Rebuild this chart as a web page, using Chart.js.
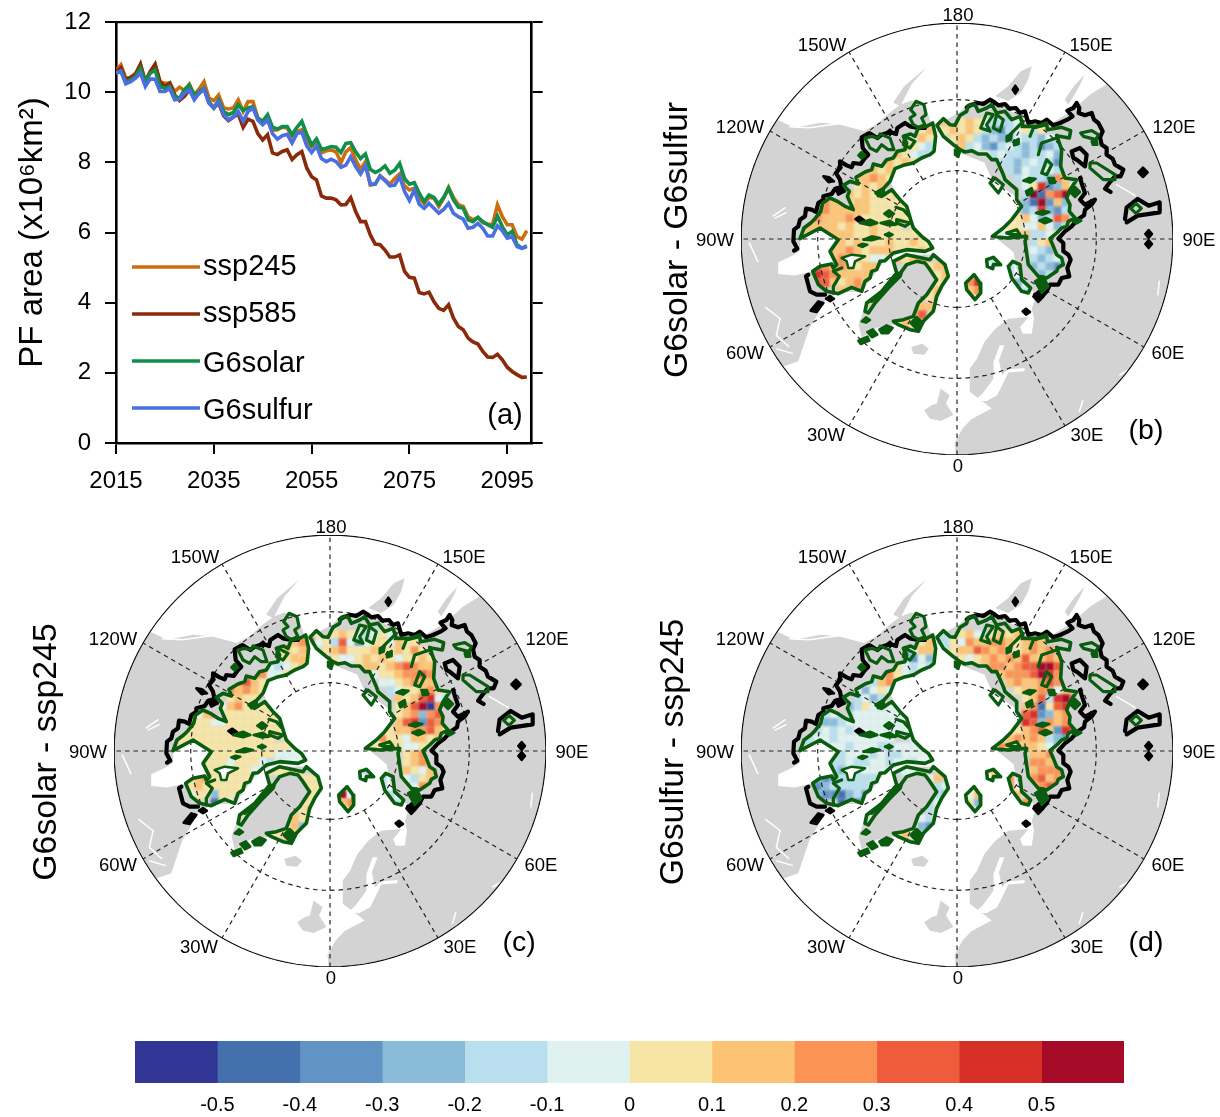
<!DOCTYPE html>
<html><head><meta charset="utf-8">
<style>
html,body{margin:0;padding:0;background:#fff;width:1220px;height:1117px;overflow:hidden}
canvas{position:absolute;filter:blur(0.5px)}
</style>
<script src="https://cdn.jsdelivr.net/npm/chart.js@4/dist/chart.umd.js"></script>
</head><body>
<canvas id="pa" width="560" height="500" style="left:0;top:0"></canvas>
<canvas id="pb" width="600" height="480" style="left:620px;top:0"></canvas>
<canvas id="pc" width="600" height="480" style="left:0;top:512px"></canvas>
<canvas id="pd" width="600" height="480" style="left:620px;top:512px"></canvas>
<canvas id="cb" width="1220" height="87" style="left:0;top:1030px"></canvas>
<script>
// ---------- panel (a) data ----------
const years=[2015,2016,2017,2018,2019,2020,2021,2022,2023,2024,2025,2026,2027,2028,2029,2030,2031,2032,2033,2034,2035,2036,2037,2038,2039,2040,2041,2042,2043,2044,2045,2046,2047,2048,2049,2050,2051,2052,2053,2054,2055,2056,2057,2058,2059,2060,2061,2062,2063,2064,2065,2066,2067,2068,2069,2070,2071,2072,2073,2074,2075,2076,2077,2078,2079,2080,2081,2082,2083,2084,2085,2086,2087,2088,2089,2090,2091,2092,2093,2094,2095,2096,2097,2098,2099];
const ssp245=[10.62,10.78,10.4,10.42,10.54,10.78,10.3,10.59,10.78,10.3,10.25,10.26,10.02,10.14,10.05,10.23,9.92,10.09,10.3,9.83,9.76,9.92,9.55,9.52,9.55,9.78,9.45,9.73,9.73,9.26,9.12,9.21,8.91,8.93,9.0,8.98,8.74,8.88,8.93,8.6,8.45,8.55,8.27,8.33,8.35,8.3,7.99,8.3,8.42,8.07,7.8,8.02,7.35,7.38,7.62,7.5,7.38,7.54,7.67,7.33,7.21,7.26,6.98,6.83,7.0,6.98,6.74,6.98,7.29,7.0,6.79,6.74,6.45,6.36,6.43,6.28,6.24,6.22,6.79,6.45,6.22,6.22,5.88,5.81,6.05];
const ssp585=[10.6,10.7,10.35,10.42,10.5,10.8,10.3,10.58,10.8,10.3,10.16,10.26,9.92,9.76,9.88,10.07,9.88,9.97,10.1,9.7,9.55,9.69,9.33,9.19,9.29,9.38,9.0,9.23,9.17,8.82,8.64,8.79,8.27,8.22,8.31,8.36,8.08,8.22,8.31,7.84,7.59,7.5,7.04,6.98,6.98,6.93,6.79,6.8,6.99,6.6,6.31,6.31,5.93,5.67,5.65,5.5,5.3,5.3,5.36,4.89,4.72,4.7,4.29,4.25,4.3,4.03,3.84,3.78,3.94,3.56,3.32,3.23,2.99,2.88,2.82,2.61,2.45,2.44,2.53,2.37,2.16,2.04,1.95,1.87,1.88];
const g6solar=[10.54,10.6,10.3,10.35,10.45,10.68,10.3,10.54,10.63,10.16,10.11,10.16,9.88,9.83,10.07,10.2,9.92,10.02,10.11,9.73,9.55,9.78,9.45,9.36,9.42,9.64,9.48,9.55,9.59,9.26,9.17,9.36,9.0,8.95,9.02,9.02,8.79,9.0,9.17,8.8,8.5,8.67,8.37,8.4,8.45,8.43,8.28,8.54,8.56,8.3,8.11,8.24,7.8,7.71,7.78,7.9,7.69,7.78,7.97,7.54,7.38,7.42,7.12,6.88,7.07,7.0,6.81,7.0,7.26,6.93,6.72,6.69,6.36,6.31,6.43,6.31,6.22,6.15,6.47,6.17,5.93,6.03,5.65,5.55,5.6];
const g6sulfur=[10.54,10.6,10.24,10.3,10.4,10.54,10.16,10.38,10.37,10.02,10.02,10.1,9.78,9.8,9.97,10.07,9.78,9.97,10.1,9.69,9.55,9.73,9.36,9.21,9.29,9.45,9.17,9.45,9.55,9.21,9.07,9.21,8.82,8.66,8.76,8.8,8.55,8.82,8.86,8.47,8.28,8.46,8.11,8.02,8.09,8.02,7.86,7.92,8.16,7.88,7.67,7.9,7.38,7.38,7.61,7.48,7.33,7.35,7.59,7.17,6.91,7.21,6.81,6.69,6.83,6.69,6.55,6.66,6.83,6.55,6.45,6.38,6.12,6.15,6.26,6.12,5.9,5.9,6.19,6.05,5.84,5.88,5.6,5.55,5.62];
const seriesNames=['ssp245','ssp585','G6solar','G6sulfur'];
const seriesColors=['#cc6e0e','#8a2a0b','#0f8f4a','#4a6fe0'];
const xTickLabels=[2015,2035,2055,2075,2095];

// ---------- colour bar ----------
const colorBins=['#313695','#4470ae','#6194c5','#8abbd9','#b9dfee','#e0f2f0','#f7e5a6','#fdc374','#fa9354','#ee5c3b','#d73027','#a50b26'];
const colorEdges=[-0.6,-0.5,-0.4,-0.3,-0.2,-0.1,0,0.1,0.2,0.3,0.4,0.5,0.6];
const colorTicks=[-0.5,-0.4,-0.3,-0.2,-0.1,0,0.1,0.2,0.3,0.4,0.5];
const levelLetters='ABCDEFGHIJKL';
const levelValues=[-0.55,-0.45,-0.35,-0.25,-0.15,-0.05,0.05,0.15,0.25,0.35,0.45,0.55];

// ---------- heat rows: "column:letters" per row, one letter per cell ----------
const heatB=[
"21:HGF 23:E","","",
"19:HHGHG 24:FEEDF 27:EFE",
"16:GHG 19:GHGHG 24:EDCEF 27:EFGE 31:G",
"14:EFH 16:HGF 20:GHGE 24:DEDCE 28:FEEDE 32:F",
"14:HG 15:GFE 17:EF 21:HEFDC 26:EFEDE 31:CDED",
"13:HGFEEF 24:FEFE 28:EDEEFDCE",
"11:HHGHGF 26:EEDE 30:FEECDE",
"8:IHHGHGH 27:EDFEEFEHE",
"8:HHIHGH 28:EFEEDIHE",
"8:GHGHIH 29:FGKCDHFGE",
"7:HGHGH 12:GH 29:ELBIJLHGE",
"4:IHHGHHGGG 13:GG 29:DBLCHDIGHF",
"3:JIHHHHHGGGGGG 29:DEKDCEGHED",
"2:JIHHHIHGGGGGG 28:GHFDEJIEFKHE",
"1:IHHHHGHGGHGGG 15:GG 27:GGFFHFDEKKEHE",
"2:HGH 5:HHHGGHGGGGGH 26:FFGHEEFGHJE",
"6:HGHGGGHGGHGGGHH 30:EGHIHG",
"5:HHIHGHHHGGGHGG 30:FEDHFG",
"5:HIHHGFFGHHG 14:GHH 25:E 30:EDEFHI",
"3:JIH 6:IHGHHGH 16:HGHH 27:E 30:DEDCE",
"3:KJI 6:HHHHIHG 18:GH 22:H 27:E 30:EDEKE",
"3:JJH 6:GHIHCH 18:GH 22:IK 28:D",
"6:HHIHD 12:HI 17:GH 22:HI 29:E",
"11:IH 17:GH",
"10:HG 16:HHI",
"15:HJ",
"13:GHH 15:G"];
const heatC=[
"","","",
"19:GFGHG 24:FEFE 27:GF",
"16:HIJ 19:FGEJFG 24:CFGH 27:GFHG 31:G",
"14:GHGHJ 20:GHIGF 24:GGHG 28:GHGI 32:G",
"14:FGHG 17:HG 21:GFFGH 26:GHGFG 31:GHGH",
"13:FEFGHH 24:GHHGH 28:HIJIHHGG",
"11:HIFFGG 26:FGGH 29:HIIJIHFG",
"8:HIJHGFF 27:FFGHIHHGG",
"8:IHIHGG 28:EFGGHIGF",
"8:GHGGGG 29:HGHJKFEE",
"7:FHIGGGGG 29:GHJLAIJHG",
"4:FHIGGGGGGGG 29:GHIDIJIHG",
"3:GGGFFGGGGGGGG 29:HJKCJIHHG",
"2:HGGGGGGGGGGGG 28:GHHIIJHGHJ",
"1:HGGGGGGGGGGGG 15:GG 27:IGGFHHGHHIE",
"2:G 5:GGGGGGGGGGGFF 26:GGHGFFGGHH",
"6:GGGGGGGGFFFFFFF 30:GHIHH",
"5:GGGFGGGFEFFFF 30:GHIHG",
"5:GGGGGGFFGF 14:GGG 25:E 30:HGFHI",
"3:GHI 6:GGGGGGF 16:GGGG 27:E 30:FEGH",
"3:GHG 6:GGGGGG 18:GG 22:G 27:E 30:EFIH",
"3:FGG 6:DGGGFD 18:GG 22:LF 28:E",
"6:BGFCB 12:GE 17:GG 22:HI 29:E",
"11:ED 17:GH",
"10:GF 16:HGG",
"15:GHD",
"13:GG 15:H"];
const heatD=[
"","","",
"19:EFGHF 24:EGHG 27:GH",
"16:GHE 19:EGFIH 24:HIIH 27:HGHI 31:H",
"14:CFHHG 20:GHHJH 24:IHIG 28:GHIHIH",
"14:ECFGE 17:DE 21:GFGHI 26:HIHJHG 31:HIH",
"13:GFEFEH 24:HIIH 28:IJJLLJHI",
"11:HIGFEF 26:HIII 30:JLKIFHH",
"8:EFEHIGF 27:HIHHIJIFG",
"8:FDFGFE 28:GHHIIFHG",
"8:EFDEFF 29:GHJEKLJHG",
"7:DEGFEFFF 29:HIBGJKLJH",
"4:EFEEFFFFFF 29:JKCDHIJHI",
"3:EDDEFFFFFFFFG 29:KJDIHIKKH",
"2:EEFEFEFFFFFFF 28:GHIJHCKKKD",
"1:EEFFEFFFFFFF 15:FF 27:HIHIHEDCH",
"2:E 5:FFEFFFEEFFFF 26:IHGHHGFDE",
"6:EFFFEFEEFFFFFF 30:HHIEE",
"5:EEFEEFFEFFEF 30:IIHDG",
"5:EDEEFFFFEF 14:FFG 25:H 30:HIIIH",
"3:DCD 6:EEEEEFF 16:FFH 27:I 30:IJHIH",
"3:CDE 6:EEEEFE 18:EF 22:F 27:I 30:HIJIH",
"3:DCC 6:BDECD 18:ED 22:FH 28:HE",
"6:BDCB 12:DC 17:EF 22:GD 29:I",
"11:ED 17:EG",
"10:FE 16:FEG",
"15:GDC",
"13:GHF"];

// ---------- land outlines, in the map's land units ----------
const landNorthAmerica=[[360,365],[400,385],[470,370],[520,375],[590,395],[625,375],[660,340],[690,315],[720,303],[760,325],[787,412],[771,467],[675,509],[661,547],[689,602],[718,662],[748,712],[766,727],[707,752],[648,785],[584,877],[540,880],[490,895],[440,990],[410,1088],[365,1105],[150,1110],[100,720],[200,300]];
const landEurasia=[[845,1400],[838,1335],[860,1290],[885,1262],[940,1230],[880,1180],[880,1110],[900,1080],[920,1030],[950,990],[985,960],[1040,955],[1030,970],[1018,985],[1025,1005],[1050,1005],[1056,960],[1050,930],[1062,890],[1010,820],[1000,760],[950,715],[1005,680],[1015,600],[940,540],[920,490],[850,460],[790,395],[800,370],[850,340],[880,310],[940,300],[1000,340],[1030,350],[1060,375],[1100,375],[1160,335],[1210,285],[1262,250],[1400,150],[1600,720],[1400,1400]];
const landGreenland=[[671,787],[707,767],[780,767],[812,797],[821,832],[789,892],[780,937],[739,997],[684,977],[625,987],[584,1017],[575,977],[597,912],[639,877],[680,822]];
const landKamchatka=[[950,290],[985,260],[1020,215],[1050,200],[1040,240],[1020,280],[985,305]];
const landSakhalin=[[1140,300],[1165,260],[1195,225],[1185,250],[1165,290],[1150,315]];
const landAleutian=[[670,310],[700,260],[760,205],[720,255],[690,320]];
const landIceland=[[720,1045],[750,1035],[768,1050],[755,1068],[725,1065]];
const landBritain=[[755,1235],[775,1220],[790,1215],[800,1170],[825,1190],[815,1215],[835,1250],[800,1268],[770,1260]];
const seaHudson=[[415,719],[470,687],[520,722],[497,757],[505,790],[480,805],[450,817],[400,830],[355,825],[355,790],[395,770],[415,755]];
const seaBaltic=[[895,1205],[925,1208],[955,1190],[978,1140],[985,1122],[1030,1118],[1030,1108],[985,1112],[968,1130],[960,1085],[975,1040],[962,1040],[945,1090],[945,1140],[915,1185]];
const coastLines=[
 [[340,652],[375,625]],[[345,658],[378,640]],[[275,730],[300,790]],[[320,925],[360,960],[350,1010],[385,1045]],
 [[385,382],[440,385],[530,372]],[[1280,555],[1335,590]],[[1190,1205],[1180,1240]],[[1290,1130],[1335,1100]],[[1400,845],[1395,890]],[[350,1050],[395,1065]]];

// ---------- contours, in the map's contour units ----------
const regionAmerica=[[30,432],[42,400],[62,385],[75,372],[92,350],[98,325],[120,310],[142,320],[165,335],[190,345],[172,305],[178,290],[160,272],[180,260],[205,268],[198,248],[225,232],[245,225],[250,208],[275,215],[290,195],[310,190],[322,170],[345,165],[350,145],[340,125],[362,118],[375,125],[385,100],[410,95],[428,85],[437,125],[432,170],[420,180],[395,190],[370,205],[340,212],[315,222],[300,260],[280,282],[258,295],[275,305],[305,285],[330,315],[350,335],[362,375],[370,400],[395,425],[415,440],[428,460],[405,470],[350,465],[310,475],[285,498],[270,500],[260,525],[245,530],[240,550],[225,560],[215,590],[185,578],[145,597],[110,590],[85,570],[68,530],[90,515],[125,508],[130,520],[140,510],[120,470],[145,435],[90,400],[30,432]];
const regionSiberia=[[441,92],[460,72],[480,90],[495,92],[510,62],[530,50],[535,32],[555,30],[565,50],[590,40],[605,30],[620,55],[645,50],[665,75],[690,65],[700,95],[740,95],[770,85],[772,105],[815,98],[842,108],[838,130],[808,125],[800,122],[815,165],[812,215],[825,250],[860,255],[840,285],[830,310],[840,330],[838,350],[855,370],[835,380],[830,395],[815,400],[800,415],[780,432],[790,455],[800,480],[815,490],[820,510],[805,518],[800,530],[770,550],[745,545],[715,510],[705,440],[710,425],[650,430],[607,425],[640,400],[665,375],[695,335],[680,315],[680,285],[645,255],[640,240],[620,195],[605,195],[590,178],[565,178],[545,168],[525,172],[510,165],[490,150],[460,125],[441,92]];
const regionGreenland=[[310,500],[350,480],[420,495],[430,480],[465,510],[475,545],[455,575],[440,605],[430,650],[400,680],[385,710],[360,705],[325,690],[310,680],[340,675],[370,665],[385,625],[410,600],[440,555],[420,525],[405,505],[380,500],[350,510],[335,530],[330,545],[295,580],[255,625],[235,655],[225,650],[230,625],[275,590],[320,535],[310,500]];
const regionSvalbard=[[527,565],[552,540],[570,565],[572,595],[555,615],[530,585],[527,565]];
const regionIslandE=[[590,495],[610,488],[632,510],[610,510],[608,522],[592,515],[590,495]];
const regionIslandF=[[655,515],[668,500],[690,510],[695,555],[722,580],[715,595],[695,590],[665,550],[655,515]];
const greenLines=[
 [[225,130],[245,125],[265,130],[270,118],[300,130],[312,165],[295,165],[275,150],[260,170],[240,160],[225,130]],
 [[362,45],[378,20],[402,30],[408,60],[395,70],[405,90],[385,98],[370,90],[360,70],[375,60],[362,45]],
 [[345,125],[375,140],[360,160],[340,150],[345,125]],
 [[320,375],[360,385],[345,395],[320,385],[320,375]],[[318,338],[340,345],[355,362]],[[155,520],[130,530],[148,545],[130,575],[130,595]],
 [[600,265],[615,250],[640,270],[625,295],[600,265]],
 [[745,180],[755,145],[800,130]],[[755,235],[770,195],[785,210],[770,240],[755,235]],
 [[572,100],[590,55],[610,60],[590,90],[600,110],[572,100]],[[620,60],[640,75],[630,110],[610,100],[620,60]],
 [[650,415],[680,405],[690,420],[665,420],[650,415]],[[720,125],[730,100],[770,90]],[[680,100],[700,80],[660,120]],
 [[872,115],[905,108],[925,120],[918,135],[880,125],[872,115]],
 [[900,205],[920,205],[975,240],[975,255],[940,255],[900,220],[900,205]],
 [[1022,341],[1038,326],[1054,341],[1038,356],[1022,341]],[[245,620],[290,580],[328,535]]];
const greenBlobs=[
 [[283,357],[297,347],[312,357],[297,367]],[[210,385],[240,375],[262,385],[240,392]],[[272,385],[300,378],[318,390],[295,392]],
 [[220,435],[245,425],[270,430],[245,437]],[[285,420],[297,415],[308,420],[297,426]],[[205,452],[218,447],[232,450],[218,457]],
 [[258,293],[280,285],[285,300],[265,305]],[[205,182],[215,172],[226,182],[215,192]],[[495,165],[510,170],[505,187],[495,180]],
 [[700,258],[718,250],[737,252],[720,264]],[[775,250],[792,250],[795,264],[780,266]],[[708,290],[725,280],[728,295],[712,302]],
 [[738,355],[758,348],[778,352],[758,360]],[[748,378],[768,370],[785,378],[765,386]],[[650,125],[665,118],[662,135],[650,140]],[[672,140],[685,133],[686,148],[674,152]],
 [[840,292],[855,277],[870,292],[855,307]],[[850,380],[862,372],[874,378],[860,386]],[[905,140],[920,138],[922,150],[908,150]],
 [[215,680],[228,668],[240,676],[228,684]],[[232,712],[248,704],[262,720],[246,728]],[[268,705],[290,692],[308,700],[295,716],[275,716]],
 [[205,738],[232,726],[238,738],[212,748]],[[362,685],[380,667],[398,685],[380,703]],[[735,560],[760,545],[775,575],[755,595]],[[155,490],[185,480],[225,485],[195,500],[190,520],[175,520],[170,500]]];
const blackLines=[
 [[12,468],[22,462],[10,440],[12,405],[25,395],[30,375],[45,365],[48,342],[65,345],[78,352],[85,325],[100,315],[100,305],[125,298],[135,283],[155,280],[150,255],[138,235],[152,218],[150,200],[170,212],[185,218],[190,205],[212,208],[225,190],[235,180],[218,160],[215,128],[238,115],[262,130],[275,120],[300,112],[318,118],[322,100],[345,85],[360,95],[385,100],[405,100]],
 [[530,38],[545,30],[565,25],[580,28],[600,15],[612,22],[625,32],[645,28],[658,42],[678,40],[690,55],[705,50],[715,85],[735,80],[755,85],[770,75],[790,92],[810,85],[832,75],[848,65],[832,48],[850,40],[860,25],[868,40],[866,55],[885,62],[905,55],[912,75],[925,85],[938,110],[930,128],[935,150],[950,160],[950,180],[968,192],[975,210],[1000,225],[992,245],[975,245],[960,262],[945,282],[962,292]],
 [[870,250],[878,275],[885,295],[870,315],[885,330],[915,315],[905,330],[885,345],[882,362],[862,375],[845,395],[825,410],[805,432],[820,445],[820,470],[835,480],[842,495],[832,520],[838,545],[815,550],[805,570],[780,570],[770,590],[750,612],[735,600]],
 [[845,170],[870,160],[890,180],[885,215],[860,195],[850,190],[845,170]],
 [[55,540],[48,545],[60,590],[80,600],[105,600]],
 [[1005,373],[1010,338],[1043,313],[1076,333],[1109,323],[1109,353],[1043,363],[1010,383]]];
const blackBlobs=[
 [[100,245],[118,248],[132,260],[115,262]],[[292,112],[300,105],[306,112],[300,120]],[[62,648],[85,620],[100,625],[80,652]],[[108,612],[120,604],[132,612],[120,620]],
 [[196,373],[208,366],[222,376],[208,382]],[[698,650],[708,642],[720,652],[708,660]],[[730,605],[745,590],[762,603],[745,622]],
 [[1045,233],[1059,219],[1073,233],[1059,247]],[[1066,418],[1076,406],[1086,418],[1076,430]],[[1066,448],[1076,436],[1086,448],[1076,460]],
 [[668,-15],[676,-27],[684,-15],[676,-3]],[[135,280],[150,275],[165,290],[145,300]]];

// ---------- graticule and labels ----------
const meridians=[30,60,120,150,210,240,300,330];
const axesThroughPole=[0,90];
const latCircles=[205,418];
const lonLabels=['180','150E','120E','90E','60E','30E','0','30W','60W','90W','120W','150W'];
const lonLabelDx=[1,134,217,242,211,130,1,-131,-212,-242,-217,-135];
const lonLabelDy=[-223,-193,-111,2,115,197,228,197,115,2,-111,-193];

// ---------- helpers ----------
const FONT='"Liberation Sans", Arial, sans-serif';
Chart.defaults.font.family=FONT;
Chart.defaults.color='#000';
const pts=a=>a.map(p=>({x:p[0],y:p[1]}));
const CX=501,CY=433,R=648;
function polarPoint(deg,r){const t=deg*Math.PI/180;return [CX+r*Math.sin(t),CY+r*Math.cos(t)];}
function circlePoints(r){const o=[];for(let d=0;d<=360;d+=3)o.push(polarPoint(d,r));return o;}
function decodeHeat(rows){
  const data=[],colors=[];
  rows.forEach((row,j)=>{row.split(' ').filter(Boolean).forEach(seg=>{
    const [c,letters]=seg.split(':');
    [...letters].forEach((ch,k)=>{
      const idx=levelLetters.indexOf(ch);
      data.push({x:12+24*(+c+k),y:12+24*j,v:levelValues[idx]});
      colors.push(colorBins[idx]);
    });
  });});
  return {data,colors};
}
const landDs=(a,color,order)=>({data:pts(a),xAxisID:'lx',yAxisID:'ly',showLine:true,fill:'shape',backgroundColor:color,borderColor:color,borderWidth:0,pointRadius:0,order});
const lineDs=(a,color,w,order,extra)=>Object.assign({data:pts(a),xAxisID:'x',yAxisID:'y',showLine:true,fill:false,borderColor:color,backgroundColor:color,borderWidth:w,pointRadius:0,borderJoinStyle:'round',borderCapStyle:'round',order},extra||{});
const blobDs=(a,color,order)=>lineDs(a.concat([a[0]]),color,2.5,order,{fill:'shape'});

const mapPlugin={
  id:'mapPlugin',
  beforeDatasetsDraw(c){
    const x=c.scales.x,y=c.scales.y,ctx=c.ctx;
    const cx=x.getPixelForValue(CX),cy=y.getPixelForValue(CY),r=x.getPixelForValue(CX+R)-cx;
    ctx.save();ctx.beginPath();ctx.arc(cx,cy,r+0.5,0,Math.PI*2);ctx.clip();
  },
  afterDatasetsDraw(c){c.ctx.restore();},
  beforeDatasetDraw(c,args){
    if(!c.data.datasets[args.index].isHeat)return;
    const x=c.scales.x,y=c.scales.y,ctx=c.ctx;
    ctx.save();ctx.beginPath();
    [regionAmerica,regionSiberia,regionGreenland,regionSvalbard,regionIslandE,regionIslandF].forEach(p=>{
      p.forEach((q,i)=>{const a=x.getPixelForValue(q[0]),b=y.getPixelForValue(q[1]);i?ctx.lineTo(a,b):ctx.moveTo(a,b);});
      ctx.closePath();
    });
    ctx.clip();ctx.filter='blur(1.2px)';
  },
  afterDatasetDraw(c,args){if(c.data.datasets[args.index].isHeat)c.ctx.restore();},
  afterDraw(c){
    const o=c.options.plugins.mapPlugin,ctx=c.ctx,x=c.scales.x,y=c.scales.y;
    const cx=x.getPixelForValue(CX),cy=y.getPixelForValue(CY);
    ctx.save();ctx.fillStyle='#000';ctx.textAlign='center';ctx.textBaseline='middle';
    ctx.font='18.5px '+FONT;
    lonLabels.forEach((t,i)=>ctx.fillText(t,cx+lonLabelDx[i],cy+lonLabelDy[i]));
    ctx.font='28.5px '+FONT;
    ctx.fillText(o.letter,cx+189,cy+192);
    ctx.translate(cx+o.titleDx,cy+o.titleDy);ctx.rotate(-Math.PI/2);
    ctx.font='33.8px '+FONT;ctx.fillText(o.title,0,0);
    ctx.restore();
  }
};

function mapChart(id,rows,title,letter,padLeft,titleDx,titleDy){
  const heat=decodeHeat(rows);
  const ds=[];
  ds.push(landDs(landNorthAmerica,'#d3d3d3',100));
  ds.push(landDs(landEurasia,'#d3d3d3',100));
  [landGreenland,landKamchatka,landSakhalin,landAleutian,landIceland,landBritain].forEach(a=>ds.push(landDs(a,'#d3d3d3',100)));
  [seaHudson,seaBaltic].forEach(a=>ds.push(landDs(a,'#ffffff',95)));
  coastLines.forEach(a=>{const d=landDs(a,'#ffffff',94);d.fill=false;d.borderWidth=1.5;ds.push(d);});
  ds.push({data:heat.data,xAxisID:'x',yAxisID:'y',isHeat:true,showLine:false,pointStyle:'rect',pointRadius:6,pointBorderWidth:0,pointBackgroundColor:heat.colors,order:90});
  const dash={borderDash:[4.5,4],borderCapStyle:'butt'};
  meridians.forEach(d=>ds.push(lineDs([polarPoint(d,205),polarPoint(d,R)],'#222',1.2,80,dash)));
  axesThroughPole.forEach(d=>ds.push(lineDs([polarPoint(d,R),polarPoint(d+180,R)],'#222',1.2,80,dash)));
  latCircles.forEach(r=>ds.push(lineDs(circlePoints(r),'#222',1.2,80,dash)));
  blackLines.forEach(a=>ds.push(lineDs(a,'#000',4.2,70)));
  blackBlobs.forEach(a=>ds.push(blobDs(a,'#000',69)));
  [regionAmerica,regionSiberia,regionGreenland,regionSvalbard,regionIslandE,regionIslandF].forEach(a=>ds.push(lineDs(a,'#0a5c0e',3.6,60)));
  greenLines.forEach(a=>ds.push(lineDs(a,'#0a5c0e',3.2,60)));
  greenBlobs.forEach((a,i)=>{
    const isHole=i===greenBlobs.length-1;
    const d=blobDs(a,'#0a5c0e',isHole?58:59);
    if(isHole){d.backgroundColor='#ffffff';}
    ds.push(d);
  });
  ds.push(lineDs(circlePoints(R),'#111',1.4,10));
  new Chart(document.getElementById(id),{
    type:'scatter',
    data:{datasets:ds},
    options:{responsive:false,animation:false,devicePixelRatio:1,
      layout:{padding:{left:padLeft,top:23,right:600-padLeft-432,bottom:25}},
      plugins:{legend:{display:false},tooltip:{enabled:false},mapPlugin:{title,letter,titleDx,titleDy}},
      scales:{
        x:{type:'linear',display:false,min:CX-R,max:CX+R},
        y:{type:'linear',display:false,min:CY-R,max:CY+R,reverse:true},
        lx:{type:'linear',display:false,min:253,max:1437,axis:'x'},
        ly:{type:'linear',display:false,min:70,max:1370,reverse:true,axis:'y'}
      }},
    plugins:[mapPlugin]
  });
}

// ---------- panel (a) ----------
const lineLegend={
  id:'lineLegend',
  afterDatasetsDraw(c){
    const ctx=c.ctx;ctx.save();
    const ys=[267,314,361,408],ty=[275,322,372,419];
    seriesNames.forEach((n,i)=>{
      ctx.strokeStyle=seriesColors[i];ctx.lineWidth=3.3;
      ctx.beginPath();ctx.moveTo(132,ys[i]);ctx.lineTo(200,ys[i]);ctx.stroke();
      ctx.fillStyle='#000';ctx.font='29px '+FONT;ctx.textBaseline='alphabetic';ctx.textAlign='left';
      ctx.fillText(n,203,ty[i]);
    });
    ctx.textAlign='center';ctx.textBaseline='middle';ctx.fillText('(a)',505,416);
    ctx.restore();
  }
};
const seriesData=[ssp245,ssp585,g6solar,g6sulfur];
new Chart(document.getElementById('pa'),{
  type:'line',
  data:{labels:years,datasets:seriesNames.map((n,i)=>({label:n,data:seriesData[i].map((v,k)=>({x:years[k],y:v})),borderColor:seriesColors[i],backgroundColor:seriesColors[i],borderWidth:3.6,pointRadius:0,tension:0,order:4-i,fill:false,xAxisID:'x',yAxisID:'y'}))},
  options:{responsive:false,animation:false,devicePixelRatio:1,
    layout:{padding:0,autoPadding:false},
    plugins:{legend:{display:false},tooltip:{enabled:false}},
    scales:{
      x:{type:'linear',position:'bottom',min:2015,max:2100,
        afterBuildTicks:s=>{s.ticks=xTickLabels.map(v=>({value:v}));},
        afterFit:s=>{s.height=57;s.paddingLeft=0;s.paddingRight=0;},
        ticks:{font:{size:24},color:'#000',padding:13,autoSkip:false,maxRotation:0,callback:v=>String(v)},
        grid:{drawOnChartArea:false,color:'#000',lineWidth:2,tickLength:11},
        border:{color:'#000',width:2.6}},
      x2:{type:'linear',position:'top',min:2015,max:2100,afterFit:s=>{s.height=22;s.paddingLeft=0;s.paddingRight=0;},
        ticks:{display:false},grid:{display:false,drawTicks:false},border:{color:'#000',width:2.2}},
      y:{type:'linear',position:'left',min:0,max:12,
        afterFit:s=>{s.width=116;s.paddingTop=0;s.paddingBottom=0;},
        ticks:{stepSize:2,font:{size:24},color:'#000',padding:14},
        grid:{drawOnChartArea:false,color:'#000',lineWidth:2,tickLength:11},
        border:{color:'#000',width:2.6},
        title:{display:true,text:'PF area (x10⁶km²)',font:{size:33},color:'#000',padding:{top:13,bottom:0}}},
      y2:{type:'linear',position:'right',min:0,max:12,
        afterFit:s=>{s.width=28.3;s.paddingTop=0;s.paddingBottom=0;},
        ticks:{display:false,stepSize:2},
        grid:{drawOnChartArea:false,color:'#000',lineWidth:2,tickLength:11},
        border:{color:'#000',width:2.6}}
    }},
  plugins:[lineLegend]
});

mapChart('pb',heatB,'G6solar - G6sulfur','(b)',121,-279,1);
mapChart('pc',heatC,'G6solar - ssp245','(c)',114,-283,1);
mapChart('pd',heatD,'G6sulfur - ssp245','(d)',121,-283,1);

// ---------- colour bar ----------
new Chart(document.getElementById('cb'),{
  type:'bar',
  data:{labels:[''],datasets:colorBins.map((c,i)=>({data:[[colorEdges[i],colorEdges[i+1]]],backgroundColor:c,borderWidth:0,grouped:false,barPercentage:1,categoryPercentage:1}))},
  options:{indexAxis:'y',responsive:false,animation:false,devicePixelRatio:1,
    layout:{padding:{left:135,right:96,top:11,bottom:0},autoPadding:false},
    plugins:{legend:{display:false},tooltip:{enabled:false}},
    scales:{
      y:{display:false},
      x:{type:'linear',min:-0.6,max:0.6,
        afterBuildTicks:s=>{s.ticks=colorTicks.map(v=>({value:v}));},
        afterFit:s=>{s.height=34;},
        ticks:{font:{size:20},color:'#000',padding:2,autoSkip:false,maxRotation:0,callback:v=>String(Math.round(v*10)/10)},
        grid:{display:false},border:{display:false}}
    }}
});
</script>
</body></html>
